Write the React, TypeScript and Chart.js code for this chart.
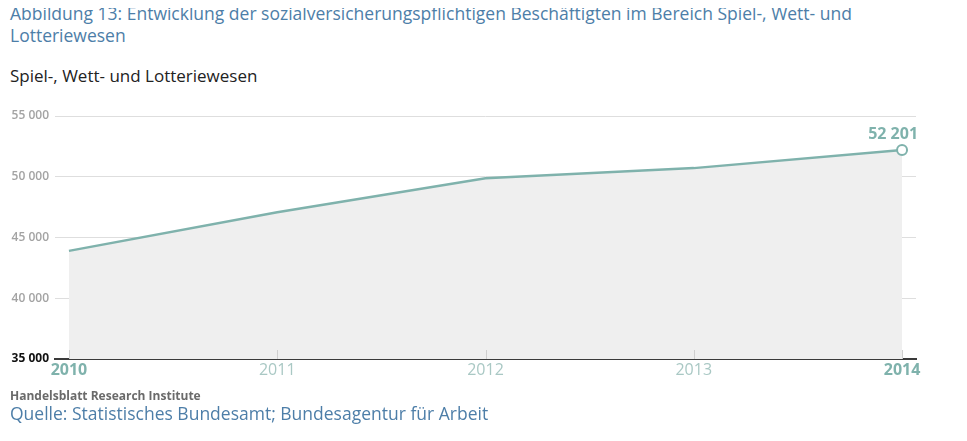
import React, { useEffect, useRef } from "react";
import { Chart, registerables } from "chart.js";

Chart.register(...registerables);

const years = [2010, 2011, 2012, 2013, 2014];
const employees = [43900, 47070, 49880, 50710, 52201];
const yTicks = [35000, 40000, 45000, 50000, 55000];
const highlightLabel = "52 201";

const TEAL = "#7fb2ac";
const BLUE = "#4d7ea8";
const FONT = "'Open Sans', 'DejaVu Sans', sans-serif";

const fmt = (v: number) => {
  const s = String(Math.round(v));
  return s.replace(/\B(?=(\d{3})+(?!\d))/g, " ");
};

const extrasPlugin = {
  id: "extras",
  afterDatasetsDraw(chart: any) {
    const { ctx, scales } = chart;
    const x = scales.x;
    const y = scales.y;
    const base = y.getPixelForValue(35000);
    ctx.save();
    ctx.strokeStyle = "#cfcfcf";
    ctx.lineWidth = 1;
    years.forEach((yr) => {
      const px = Math.round(x.getPixelForValue(yr)) + 0.5;
      ctx.beginPath();
      ctx.moveTo(px, base - 9);
      ctx.lineTo(px, base);
      ctx.stroke();
    });
    const meta = chart.getDatasetMeta(0);
    const last = meta.data[meta.data.length - 1];
    ctx.fillStyle = TEAL;
    ctx.font = `bold 16px ${FONT}`;
    ctx.textAlign = "right";
    ctx.textBaseline = "alphabetic";
    ctx.fillText(highlightLabel, last.x + 16, last.y - 11);
    ctx.restore();
  },
};

export default function App() {
  const ref = useRef<HTMLCanvasElement>(null);
  useEffect(() => {
    if (!ref.current) return;
    const n = years.length;
    const chart = new Chart(ref.current, {
      type: "line",
      data: {
        datasets: [
          {
            data: years.map((yr, i) => ({ x: yr, y: employees[i] })),
            borderColor: TEAL,
            borderWidth: 2.5,
            backgroundColor: "#efefef",
            fill: "start",
            tension: 0,
            pointRadius: (c: any) => (c.dataIndex === n - 1 ? 5 : 0),
            pointBackgroundColor: "#ffffff",
            pointBorderColor: TEAL,
            pointBorderWidth: 2,
          },
        ],
      },
      options: {
        animation: false,
        responsive: false,
        maintainAspectRatio: false,
        layout: { padding: { top: 21, right: 44, bottom: 0, left: 0 } },
        plugins: { legend: { display: false }, tooltip: { enabled: false } },
        scales: {
          x: {
            type: "linear",
            min: 2009.933,
            max: 2014.067,
            afterBuildTicks: (s: any) => {
              s.ticks = years.map((v) => ({ value: v }));
            },
            afterFit: (s: any) => {
              s.height = 36;
            },
            grid: { display: false, drawTicks: false },
            border: { display: true, color: "#3a3a3a", width: 2 },
            ticks: {
              padding: 2,
              callback: (v: any) => String(v),
              color: (c: any) =>
                c.index === 0 || c.index === n - 1 ? TEAL : "#a9c8c4",
              font: (c: any) =>
                c.index === 0 || c.index === n - 1
                  ? { family: FONT, size: 16, weight: "bold" }
                  : { family: FONT, size: 16, weight: "normal" },
            },
          },
          y: {
            min: 35000,
            max: 55000,
            afterBuildTicks: (s: any) => {
              s.ticks = yTicks.map((v) => ({ value: v }));
            },
            afterFit: (s: any) => {
              s.width = 55;
            },
            border: { display: false },
            grid: {
              color: (c: any) =>
                c.tick && c.tick.value === 35000 ? "rgba(0,0,0,0)" : "#dedede",
              drawTicks: false,
            },
            ticks: {
              padding: 6,
              callback: (v: any) => fmt(v),
              color: (c: any) => (c.index === 0 ? "#111111" : "#a3a3a3"),
              font: (c: any) => ({ family: FONT, size: 12, weight: c.index === 0 ? "bold" : "600" }),
            },
          },
        },
      },
      plugins: [extrasPlugin],
    } as any);
    return () => chart.destroy();
  }, []);

  return (
    <div style={{ position: "relative", width: 951, height: 425, fontFamily: FONT }}>
      <div
        style={{
          position: "absolute",
          left: 2,
          top: -6,
          width: 880,
          fontSize: 17.5,
          lineHeight: "22px",
          color: BLUE,
        }}
      >
        Abbildung 13: Entwicklung der sozialversicherungspflichtigen Beschäftigten im Bereich Spiel-, Wett- und Lotteriewesen
      </div>
      <div
        style={{
          position: "absolute",
          left: 2,
          top: 57,
          fontSize: 17,
          lineHeight: "22px",
          color: "#222222",
        }}
      >
        Spiel-, Wett- und Lotteriewesen
      </div>
      <canvas
        ref={ref}
        width={960}
        height={300}
        style={{ position: "absolute", left: -8, top: 87, width: 960, height: 300 }}
      />
      <div
        style={{
          position: "absolute",
          left: 2,
          top: 380,
          fontSize: 12,
          fontWeight: "bold",
          lineHeight: "15px",
          color: "#6a6a6a",
        }}
      >
        Handelsblatt Research Institute
      </div>
      <div
        style={{
          position: "absolute",
          left: 2,
          top: 394,
          fontSize: 17.5,
          lineHeight: "22px",
          color: BLUE,
        }}
      >
        Quelle: Statistisches Bundesamt; Bundesagentur für Arbeit
      </div>
    </div>
  );
}
